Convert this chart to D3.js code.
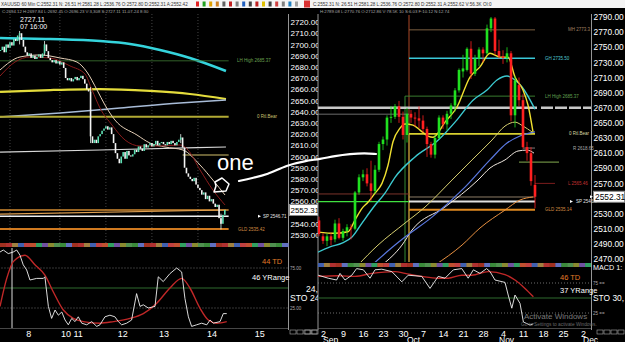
<!DOCTYPE html>
<html><head><meta charset="utf-8">
<script src="https://cdn.jsdelivr.net/npm/d3@7"></script>
<style>
body{margin:0;background:#000}
svg{display:block}
text{font-family:Arial,"Liberation Sans",sans-serif}
</style></head>
<body><svg id="chart" width="625" height="342"></svg>
<script>
// ---------- left window: XAUUSD 60 min ----------
const leftStartHour = -5;
const leftCloses = [
  2695,2698,2693,2700,2697,2702,2699,2705,2703,2708,
  2710,2704,2698,2693,2690,2692,2688,2690,2687,2689,
  2691,2688,2692,2700,2694,2688,2686,2684,2686,2683,
  2685,2682,2684,2679,2670,2668,2670,2667,2669,2671,
  2668,2670,2672,2669,2665,2660,2658,2618,2612,2615,
  2612,2618,2620,2623,2625,2627,2624,2626,2620,2612,
  2603,2598,2594,2600,2604,2598,2605,2601,2600,2602,
  2606,2604,2609,2607,2605,2611,2608,2610,2612,2609,
  2611,2614,2610,2612,2613,2611,2610,2613,2611,2614,
  2612,2610,2613,2615,2617,2608,2590,2585,2582,2580,
  2578,2581,2575,2572,2570,2566,2568,2562,2565,2560,
  2562,2558,2555,2557,2545,2540,2548,2552.31
];
const leftWicks = [[5,2712,2700],[18,2703,2690],[42,2662,2612],[89,2620,2612],[110,2549,2535]];
const leftSessions = [0,26,50,74,98];
const leftDayTicks = [9.5,32,58.5,80,105,130];
const leftDayLabels = ["8","10 11","12","13","14","15"];
const leftPriceTicks = [2530,2540,2560,2570,2580,2590,2600,2610,2620,2630,2640,2650,2660,2670,2680,2690,2700,2710,2720];

const leftCyan = [[-5.2,2705.7],[20.9,2704.8],[46.9,2703],[62.6,2700.4],[78.2,2695],[93.8,2687.9],[112.6,2676.3]];
const leftYellow = [[-5.2,2657.6],[20.9,2659.3],[46.9,2660.2],[73,2658.5],[93.8,2655.8],[112.6,2651.3]];
const leftSteel = [[-5.2,2635.3],[26.1,2638.8],[57.4,2643.3],[88.6,2647.8],[112.6,2650.4]];
const leftGrayLine = [[-5.2,2604],[46.9,2605.8],[112.6,2608.5]];
const leftOrangeSlope = [[-5.2,2548.7],[112.6,2552.3]];
const leftBeige = [[-5.2,2677.2],[5.2,2688.8],[15.6,2690.6],[26.1,2687.9],[34.9,2684.3],[40.1,2675.4],[45.4,2659.3],[49.5,2646],[54.7,2632.6],[66.2,2619.2],[73,2612],[80.8,2608.5],[90.2,2605.8],[99.1,2592.4],[105.8,2579],[112.1,2565.7]];
const leftDarkRed = [[-5.2,2671.8],[2.6,2684.3],[10.4,2688.8],[20.9,2687.9],[31.3,2680.8],[39.1,2673.6],[42.8,2659.3],[46.9,2643.3],[53.2,2628.1],[60,2614.7],[67.8,2609.4],[78.2,2609.4],[88.6,2610.3],[92.8,2605.8],[99.1,2588],[105.8,2570.1],[112.1,2556.8]];

const leftStoK = [[-5.2,95],[-3.5,97.5],[-0.9,93],[1.7,95],[3.5,97.5],[5.2,91],[6.9,79],[8.7,72.5],[10.4,60],[13.9,62],[17.4,62],[18.2,64],[20,27],[21.7,12],[23.5,22.5],[25.2,16],[27,20],[28.7,10],[30.4,4],[32.2,12],[33.9,8],[35.6,14],[37.4,6],[40,4],[42.6,8],[45.2,2],[46.9,4],[49.5,14],[52.1,16],[54.7,14],[56.5,8],[58.2,4],[60.8,6],[63.4,10],[66,43],[67.8,27],[69.5,29],[72.1,25],[75.6,27],[77.3,64],[79.9,58],[83.4,68],[86.9,75],[89.5,70],[91.2,37],[93,14],[94.7,2],[97.3,4],[99.9,6],[102.6,4],[104.3,10],[106,6],[109.5,8],[111.2,18],[113,18]];
const leftStoD = [[-5.2,27],[-1.7,62],[1.7,83],[7.8,91],[13,79],[18.2,66],[22.6,45],[27.8,22.5],[33,12],[38.2,8],[46.9,6],[53.9,8],[62.6,12],[69.5,18],[76.5,31],[83.4,50],[89.5,62],[93.8,50],[99,25],[103.4,10],[107.8,6],[113,8]];

// ---------- right window: XAUUSD daily ----------
// [open, close, high, low] per trading day, Aug 29 .. Nov 14
const rightOHLC = [
  [2522,2510,2526,2505],[2521,2503,2526,2500],[2500,2494,2504,2490],[2494,2500,2504,2487],[2500,2495,2505,2488],
  [2496,2517,2522,2492],[2517,2498,2524,2496],[2498,2507,2510,2494],[2507,2512,2516,2500],[2512,2511,2516,2496],
  [2510,2558,2560,2508],[2558,2578,2582,2555],[2578,2582,2588,2573],[2582,2570,2590,2566],[2570,2560,2600,2547],
  [2560,2588,2594,2556],[2588,2622,2625,2585],[2622,2628,2632,2614],[2628,2657,2660,2620],[2657,2658,2672,2650],
  [2658,2672,2675,2655],[2672,2658,2679,2650],[2658,2634,2665,2628],[2634,2662,2670,2624],[2662,2657,2667,2650],
  [2657,2656,2664,2645],[2656,2653,2672,2643],[2653,2642,2660,2637],[2642,2622,2645,2605],[2622,2608,2625,2604],
  [2608,2630,2634,2603],[2630,2657,2660,2628],[2657,2648,2660,2642],[2648,2662,2666,2640],[2662,2673,2676,2655],
  [2673,2693,2696,2665],[2693,2720,2722,2690],[2718,2722,2740,2710],[2720,2748,2750,2718],[2748,2715,2758,2708],
  [2715,2735,2740,2712],[2735,2747,2750,2725],[2747,2742,2750,2730],[2742,2775,2780,2740],[2775,2788,2790,2770],
  [2788,2745,2790,2740],[2745,2738,2760,2735],[2738,2736,2746,2728],[2736,2742,2750,2730],[2742,2660,2745,2652],
  [2660,2706,2712,2644],[2700,2680,2710,2672],[2680,2618,2688,2616],[2618,2610,2625,2600],[2610,2573,2618,2567],
  [2568,2552.31,2581,2537]
];
const rightWeekTicks = [2,7,12,17,22,27,32,37,42,47,52,57,62,67];
const rightWeekLabels = ["2","9","16","23","30","7","14","21","28","4","11","18","25","2"];
const rightMonthStarts = [2,23,46,67];
const rightMonthLabels = ["Sep","Oct","Nov","Dec"];
const rightPriceTicks = [2470,2490,2510,2530,2570,2590,2610,2630,2650,2670,2690,2710,2730,2750,2770,2790];

const rightYellow = [[0.75,2505.6],[5,2504],[8.25,2506],[10,2521.5],[11.75,2537],[13.25,2545],[15,2557],[16.75,2570],[18.25,2594],[19.5,2625],[21.25,2643],[22.5,2648.5],[24.5,2647],[26.25,2640.5],[28.25,2632.6],[29.5,2631],[32.5,2651],[35.5,2671],[38.75,2710.6],[41.25,2724],[43.75,2742],[46.25,2737],[48.25,2737],[50,2710.6],[52,2693.4],[53.25,2673.6],[54.5,2638]];
const rightCyan = [[0.75,2479],[3.75,2486],[6.75,2491],[9.25,2499],[11.75,2517.5],[15,2541],[17.5,2557],[20,2578],[25,2605],[30.75,2627],[35.5,2654],[39.5,2680],[43,2693.4],[45.5,2706.7],[48,2712],[50,2706.7],[51.75,2697.4],[55,2668]];
const rightPale = [[10.75,2462],[15.75,2488.4],[22.5,2517.5],[27.5,2538.7],[34.25,2574.4],[39.25,2601],[44.25,2627.3],[47.5,2645.8],[50,2651],[52,2645.8],[54.25,2638]];
const rightBlue = [[14.25,2462],[20,2488.4],[22.5,2499],[29.25,2525.4],[37.5,2565],[43.75,2601],[48,2623.3],[51.25,2632.6],[55,2638]];
const rightWhite = [[16.75,2462],[21.75,2488.4],[24.25,2508.3],[32.5,2538.7],[40.75,2574.4],[43.75,2590.3],[47.5,2601],[50.75,2612.8],[53,2614],[54.75,2610]];
const rightOrange = [[30,2462],[36.75,2488.4],[41.25,2511],[47.5,2534.7],[51.25,2548],[54.5,2552]];

const rightStoK = [[0.8,88],[3.3,83],[5.4,80],[6.25,91],[7.5,80],[9.2,88],[10.4,99],[12.1,97],[13.75,83],[15,97],[16.7,98],[19.2,94],[21.7,77],[23.3,88],[25,87],[26.7,86],[28.75,66],[30.8,86],[32.5,83],[34.6,97],[36.7,99],[38.3,83],[39.6,97],[41.25,91],[42.9,99],[43.75,94],[45,80],[47.5,76],[48.3,55],[49.2,33],[50,55],[51.25,41],[52.1,10],[53.75,5],[54.6,7]];
const rightStoD = [[0.8,86],[5.8,87],[10,86],[14.2,91],[20,94],[22.5,91],[26.7,86],[30.8,83],[33.3,83],[36.7,88],[39.2,88],[43.3,94],[47.5,89],[50,80],[52.5,66],[54.6,52]];

const stripColors = ["#a03020","#c05030","#3a8a3a","#4060b0","#8a8a30","#b03030","#30a060","#6070c0","#c04040","#509050","#a08040","#7050a0"];

// ---------- drawing ----------
const svg = d3.select("#chart");
svg.append("rect").attr("width",625).attr("height",342).attr("fill","#000");

const xL = d3.scaleLinear().domain([0,122]).range([10,244]);
const yL = d3.scaleLinear().domain([2530,2720]).range([235,22]);
const sL = d3.scaleLinear().domain([0,100]).range([328,248]);
const xR = d3.scaleLinear().domain([2,67]).range([323,583]);
const yR = d3.scaleLinear().domain([2470,2790]).range([259,17]);
const sR = d3.scaleLinear().domain([0,100]).range([328,268]);

const defs = svg.append("defs");
defs.append("clipPath").attr("id","clipL").append("rect").attr("x",0).attr("y",14).attr("width",288).attr("height",229);
defs.append("clipPath").attr("id","clipR").append("rect").attr("x",318).attr("y",14).attr("width",273).attr("height",248);
defs.append("clipPath").attr("id","clipLS").append("rect").attr("x",0).attr("y",248).attr("width",288).attr("height",80);
defs.append("clipPath").attr("id","clipRS").append("rect").attr("x",318).attr("y",268).attr("width",273).attr("height",60);

function curve(g, pts, xs, ys, color, w){
  g.append("path").datum(pts)
    .attr("d", d3.line().x(d=>xs(d[0])).y(d=>ys(d[1])).curve(d3.curveMonotoneX))
    .attr("fill","none").attr("stroke",color).attr("stroke-width",w);
}
function hline(g, xs, ys, a, b, p, color, w, dash){
  g.append("line").attr("x1",xs(a)).attr("x2",xs(b)).attr("y1",ys(p)).attr("y2",ys(p))
    .attr("stroke",color).attr("stroke-width",w).attr("stroke-dasharray",dash||null);
}
function tag(g, x, y, t, color, size){
  g.append("text").attr("x",x).attr("y",y).attr("dy","0.35em").attr("fill",color)
    .attr("font-size",size||4.5).text(t);
}

// ===== LEFT PRICE PANEL =====
const gL = svg.append("g").attr("clip-path","url(#clipL)");
leftSessions.forEach(h=>{
  gL.append("line").attr("x1",xL(h)).attr("x2",xL(h)).attr("y1",14).attr("y2",243)
    .attr("stroke","#555").attr("stroke-width",0.8).attr("stroke-dasharray","1,2");
});
curve(gL,leftCyan,xL,yL,"#35d4dc",2.6);
curve(gL,leftYellow,xL,yL,"#e4dc3c",2.2);
curve(gL,leftSteel,xL,yL,"#a8bcd8",1.4);
hline(gL,xL,yL,-6,114,2685.37,"#3f7a34",0.8);
hline(gL,xL,yL,-6,114,2635.5,"#b2aa34",2);
curve(gL,leftGrayLine,xL,yL,"#d8d8d8",1.2);
hline(gL,xL,yL,90,114,2601.3,"#8c8048",1.4);
hline(gL,xL,yL,-6,114,2552.3,"#d08a30",1.3);
curve(gL,leftOrangeSlope,xL,yL,"#e0a050",1.2);
hline(gL,xL,yL,-6,114,2546.7,"#f0f0f0",1.6);
hline(gL,xL,yL,-6,114,2535.4,"#d07a20",2);
curve(gL,leftBeige,xL,yL,"#e6d0b8",1);
curve(gL,leftDarkRed,xL,yL,"#8a1c1c",1);

const lBars = leftCloses.map((c,i)=>({h:leftStartHour+i, c, o: i? leftCloses[i-1] : c}));
gL.selectAll("line.wk").data(leftWicks).join("line").attr("class","wk")
  .attr("x1",d=>xL(d[0])).attr("x2",d=>xL(d[0])).attr("y1",d=>yL(d[1])).attr("y2",d=>yL(d[2]))
  .attr("stroke","#e8f8f0").attr("stroke-width",0.8);
gL.selectAll("rect.cd").data(lBars).join("rect").attr("class","cd")
  .attr("x",d=>xL(d.h)-0.8).attr("width",1.6)
  .attr("y",d=>yL(Math.max(d.o,d.c)))
  .attr("height",d=>Math.max(1,Math.abs(yL(d.o)-yL(d.c))))
  .attr("fill",d=>d.c>=d.o?"#5fe0b4":"#f4f4f4");

// tiny level tags
const tL = svg.append("g");
tag(tL,237,yL(2685.37),"LH High 2685.37","#6aa050");
tag(tL,257,yL(2635.5),"0 Rtl.Bear","#c8c070");
tag(tL,263,yL(2546.7),"SP 2546.71","#e0e0e0");
tL.append("path").attr("d",`M258,${yL(2546.7)-1.5}L261,${yL(2546.7)}L258,${yL(2546.7)+1.5}Z`).attr("fill","#fff");
tag(tL,238,yL(2535.4),"GLD 2535.42","#d08a40");
tag(tL,20,19.5,"2727.11","#fff",7);
tag(tL,20,27,"07 16:00","#fff",7);

// left axis
svg.append("line").attr("x1",288.5).attr("x2",288.5).attr("y1",14).attr("y2",330).attr("stroke","#bbb").attr("stroke-width",0.8);
const axL = svg.append("g").attr("transform","translate(289,0)")
  .call(d3.axisRight(yL).tickValues(leftPriceTicks).tickFormat(d3.format(".2f")).tickSize(0).tickPadding(1.5));
axL.select(".domain").remove();
axL.selectAll("text").attr("fill","#fff").attr("font-size",8.1).attr("font-family","Arial");
svg.append("rect").attr("x",289.5).attr("y",yL(2552.31)-5.5).attr("width",28.5).attr("height",11).attr("fill","#fff").attr("stroke","#888");
svg.append("text").attr("x",290.5).attr("y",yL(2552.31)).attr("dy","0.35em").attr("font-size",7.9).attr("fill","#000").text("2552.31");

// strip
const stripW = 288/48;
d3.range(48).forEach(i=>svg.append("rect").attr("x",i*stripW).attr("y",243).attr("width",stripW+0.5).attr("height",4).attr("fill",stripColors[(i*5)%stripColors.length]));

// ===== LEFT STOCHASTIC =====
const gLS = svg.append("g").attr("clip-path","url(#clipLS)");
hline(gLS,xL,sL,-6,150,75,"#888",0.8,"1,2");
hline(gLS,xL,sL,-6,150,25,"#888",0.8,"1,2");
hline(gLS,xL,sL,-6,150,50,"#2f6a2f",1);
gLS.append("line").attr("x1",12).attr("x2",12).attr("y1",248).attr("y2",342).attr("stroke","#ddd").attr("stroke-width",1);
curve(gLS,leftStoD,xL,sL,"#c02828",1.4);
gLS.append("path").datum(leftStoK).attr("d",d3.line().x(d=>xL(d[0])).y(d=>sL(d[1])))
  .attr("fill","none").attr("stroke","#f2f2f2").attr("stroke-width",0.9);
svg.append("line").attr("x1",0).attr("x2",288).attr("y1",328.5).attr("y2",328.5).attr("stroke","#777").attr("stroke-width",0.6);
tag(svg,262,261,"44 TD","#e07a28",7.5);
tag(svg,252,277,"46 YRange","#fff",7.5);
tag(svg,290,268,"75.00","#aaa",4.5);
tag(svg,290,308,"25.00","#aaa",4.5);
tag(svg,290,298,"STO  24,","#fff",8.6);

const axLX = svg.append("g").attr("transform","translate(0,329)")
  .call(d3.axisBottom(xL).tickValues(leftDayTicks).tickFormat((d,i)=>leftDayLabels[i]).tickSize(0).tickPadding(2));
axLX.select(".domain").remove();
axLX.selectAll("text").attr("fill","#fff").attr("font-size",9).attr("font-family","Arial");

// ===== RIGHT WINDOW =====
svg.append("rect").attr("x",318).attr("y",14).attr("width",273).attr("height",328).attr("fill","#000");
svg.append("line").attr("x1",318).attr("x2",318).attr("y1",14).attr("y2",330).attr("stroke","#bbb").attr("stroke-width",0.8);
const stripRW = 273/46;
d3.range(46).forEach(i=>svg.append("rect").attr("x",318+i*stripRW).attr("y",263).attr("width",stripRW+0.5).attr("height",4).attr("fill",stripColors[(i*7+3)%stripColors.length]));

const gR = svg.append("g").attr("clip-path","url(#clipR)");
// vertical markers
gR.append("line").attr("x1",xR(23.5)).attr("x2",xR(23.5)).attr("y1",15).attr("y2",262).attr("stroke","#c0502a").attr("stroke-width",0.9);
gR.append("line").attr("x1",xR(23.5)).attr("x2",xR(23.5)).attr("y1",yR(2635.5)).attr("y2",262).attr("stroke","#c8c840").attr("stroke-width",0.9);
gR.append("line").attr("x1",xR(22.5)).attr("x2",xR(22.5)).attr("y1",yR(2685.37)).attr("y2",262).attr("stroke","#3a9a3a").attr("stroke-width",0.9);
// levels
hline(gR,xR,yR,23.5,55,2773,"#8a6a48",0.9);
hline(gR,xR,yR,23.5,55,2735.5,"#3ac8d8",1.6);
hline(gR,xR,yR,22.5,55,2685.37,"#3f8a34",0.9);
hline(gR,xR,yR,0,55.5,2670,"#c8c8c8",2.6);
hline(gR,xR,yR,56.5,70,2670,"#c8c8c8",2.6,"12,2");
hline(gR,xR,yR,0,23.5,2661.5,"#999",0.7);
hline(gR,xR,yR,23.5,55,2635.5,"#d8d030",1.6);
hline(gR,xR,yR,52,55,2616.7,"#999",0.8);
hline(gR,xR,yR,51,61,2598,"#6a8a40",1.2);
hline(gR,xR,yR,55,60,2570,"#8a2020",0.9);
hline(gR,xR,yR,0,23.5,2556,"#8a3a30",0.9);
hline(gR,xR,yR,23.5,55,2552,"#b09a80",0.8);
hline(gR,xR,yR,0,23.5,2546,"#40e040",1.3);
hline(gR,xR,yR,23.5,55,2546.1,"#e0e0e0",2);
hline(gR,xR,yR,23.5,55,2535.14,"#e08a20",1.8);
// moving averages
curve(gR,rightOrange,xR,yR,"#e89040",1);
curve(gR,rightWhite,xR,yR,"#f0e8e0",1);
curve(gR,rightBlue,xR,yR,"#5a78e0",1.2);
curve(gR,rightPale,xR,yR,"#d8d070",1);
curve(gR,rightCyan,xR,yR,"#3ccad0",1.4);
curve(gR,rightYellow,xR,yR,"#f0e030",1.4);
// candles
const rBars = rightOHLC.map((d,i)=>({i, o:d[0], c:d[1], h:d[2], l:d[3]}));
gR.selectAll("line.rw").data(rBars).join("line").attr("class","rw")
  .attr("x1",d=>xR(d.i)).attr("x2",d=>xR(d.i)).attr("y1",d=>yR(d.h)).attr("y2",d=>yR(d.l))
  .attr("stroke",d=>d.c>=d.o?"#20e020":"#ff2020").attr("stroke-width",0.8);
gR.selectAll("rect.rc").data(rBars).join("rect").attr("class","rc")
  .attr("x",d=>xR(d.i)-1.3).attr("width",2.6)
  .attr("y",d=>yR(Math.max(d.o,d.c)))
  .attr("height",d=>Math.max(1,Math.abs(yR(d.o)-yR(d.c))))
  .attr("fill",d=>d.c>=d.o?"#20e020":"#ff2020");

const tR = svg.append("g");
tag(tR,568,yR(2773),"MH 2773.3","#a08060");
tag(tR,545,yR(2735.5),"GH 2735.50","#50c8d0");
tag(tR,545,yR(2685.37),"LH High 2685.37","#60a050");
tag(tR,569,yR(2635.5),"0 Rtl.Bear","#d8d8a0");
tag(tR,573,yR(2616.7),"R 2618.65","#aaa");
tag(tR,568,yR(2570),"L 2565.46","#c03030");
tag(tR,576,yR(2546.1),"SP 2546.1","#e0e0e0");
tR.append("path").attr("d",`M570,${yR(2546.1)-1.5}L573,${yR(2546.1)}L570,${yR(2546.1)+1.5}Z`).attr("fill","#fff");
tag(tR,545,yR(2535.14),"GLD 2535.14","#d08a40");

// right axis
svg.append("line").attr("x1",591.5).attr("x2",591.5).attr("y1",14).attr("y2",330).attr("stroke","#bbb").attr("stroke-width",0.8);
const axR = svg.append("g").attr("transform","translate(592,0)")
  .call(d3.axisRight(yR).tickValues(rightPriceTicks).tickFormat(d3.format(".2f")).tickSize(0).tickPadding(1.5));
axR.select(".domain").remove();
axR.selectAll("text").attr("fill","#fff").attr("font-size",8.4).attr("font-family","Arial");
svg.append("rect").attr("x",593.5).attr("y",yR(2552.31)-5.5).attr("width",31).attr("height",11).attr("fill","#fff").attr("stroke","#888");
svg.append("text").attr("x",595).attr("y",yR(2552.31)).attr("dy","0.35em").attr("font-size",8.4).attr("fill","#000").text("2552.31");
svg.append("path").attr("d",`M593,${yR(2552.31)}L590,${yR(2552.31)-1.5}L590,${yR(2552.31)+1.5}Z`).attr("fill","#fff");

// right stochastic
const gRS = svg.append("g").attr("clip-path","url(#clipRS)");
hline(gRS,xR,sR,0,70,75,"#888",0.8,"1,2");
hline(gRS,xR,sR,0,70,25,"#888",0.8,"1,2");
hline(gRS,xR,sR,0,70,50,"#2f6a2f",1);
curve(gRS,rightStoD,xR,sR,"#c02828",1.4);
gRS.append("path").datum(rightStoK).attr("d",d3.line().x(d=>xR(d[0])).y(d=>sR(d[1])))
  .attr("fill","none").attr("stroke","#f2f2f2").attr("stroke-width",0.9);
svg.append("line").attr("x1",318).attr("x2",591).attr("y1",328.5).attr("y2",328.5).attr("stroke","#777").attr("stroke-width",0.6);
tag(svg,560,277,"46 TD","#e07a28",7.5);
tag(svg,560,290,"37 YRange","#fff",7.5);
tag(svg,593,283,"75 ==","#aaa",4.5);
tag(svg,593,313,"25 ==","#aaa",4.5);
tag(svg,593,298,"STO 30,","#fff",8.4);
tag(svg,593,267.5,"MACD 1:","#fff",7.2);
tag(svg,306,289,"24,","#fff",8.6);
svg.append("text").attr("x",524).attr("y",319).attr("font-size",8).attr("fill","#7a7a7a").text("Activate Windows");
svg.append("text").attr("x",521).attr("y",326).attr("font-size",4.8).attr("fill","#6a6a6a").text("Go to Settings to activate Windows.");

const axRX = svg.append("g").attr("transform","translate(0,329)")
  .call(d3.axisBottom(xR).tickValues(rightWeekTicks).tickFormat((d,i)=>rightWeekLabels[i]).tickSize(0).tickPadding(2));
axRX.select(".domain").remove();
axRX.selectAll("text").attr("fill","#fff").attr("font-size",9).attr("font-family","Arial");
rightMonthStarts.forEach((m,i)=>svg.append("text").attr("x",xR(m)).attr("y",343).attr("font-size",8.5).attr("fill","#fff").text(rightMonthLabels[i]));

// small boxes at the axis corners
[[290,4],[305,2],[597,4]].forEach(([x0,n])=>d3.range(n).forEach(k=>
  svg.append("rect").attr("x",x0+k*7).attr("y",330).attr("width",6).attr("height",4).attr("fill","none").attr("stroke","#aaa").attr("stroke-width",0.6)));

// ===== HEADERS =====
svg.append("rect").attr("x",0).attr("y",0).attr("width",625).attr("height",8).attr("fill","#f4f4f4");
svg.append("text").attr("x",1).attr("y",6).attr("font-size",4.6).attr("fill","#333")
  .text("XAUUSD 60 Min  C:2552.31  N:  26.51  H:2581.28  L:2536.76  O:2572.80  D:2552.31  A:2552.42");
const iconColors = ["#e02020","#20a020","#e0a000","#d08020","#606060","#c02020","#808080","#2060c0","#404040","#c02020","#e0c000","#404040","#d04040","#808080","#2080c0","#a0a0a0"];
iconColors.forEach((c,i)=>svg.append("rect").attr("x",196+i*6.6).attr("y",1.5).attr("width",3).attr("height",5).attr("fill",c));
svg.append("rect").attr("x",304).attr("y",0.5).attr("width",6).attr("height",7).attr("fill","#d83030");
svg.append("text").attr("x",313).attr("y",6).attr("font-size",4.6).attr("fill","#333")
  .text("C:2552.31  N:  26.51  H:2581.28  L:2536.76  O:2572.80  D:2552.31  A:2552.62  V:56.3K  OI:0");
svg.append("text").attr("x",2).attr("y",12.5).attr("font-size",4.3).attr("fill","#aaa")
  .text("C:2694.12  H:2697.84  L:2692.45  O:2696.23  V:3,308  S:2727.11  11-07-24  8:30");
svg.append("text").attr("x",320).attr("y",12.5).attr("font-size",4.3).attr("fill","#aaa")
  .text("H:2789.08  L:2770.76  O:2712.86  V:78.5K  10  S:6.03  F:10.12  N:12.74");

// ===== hand-drawn note =====
const note = svg.append("g").attr("fill","none").attr("stroke","#fff").attr("stroke-linecap","round").attr("stroke-linejoin","round");
note.append("path").attr("stroke-width",1.5).attr("d","M215,182L222,178L229,184L226,191L214,192L216,186Z");
const inkPath = [[239,181],[252,178],[267,175],[287,165],[305,161],[320,159],[335,156],[350,154],[365,153],[376,154]];
note.append("path").attr("stroke-width",2.2).datum(inkPath).attr("d",d3.line().curve(d3.curveBasis));
svg.append("text").attr("x",217).attr("y",170).attr("font-size",22).attr("fill","#fff").text("one");
</script></body></html>
